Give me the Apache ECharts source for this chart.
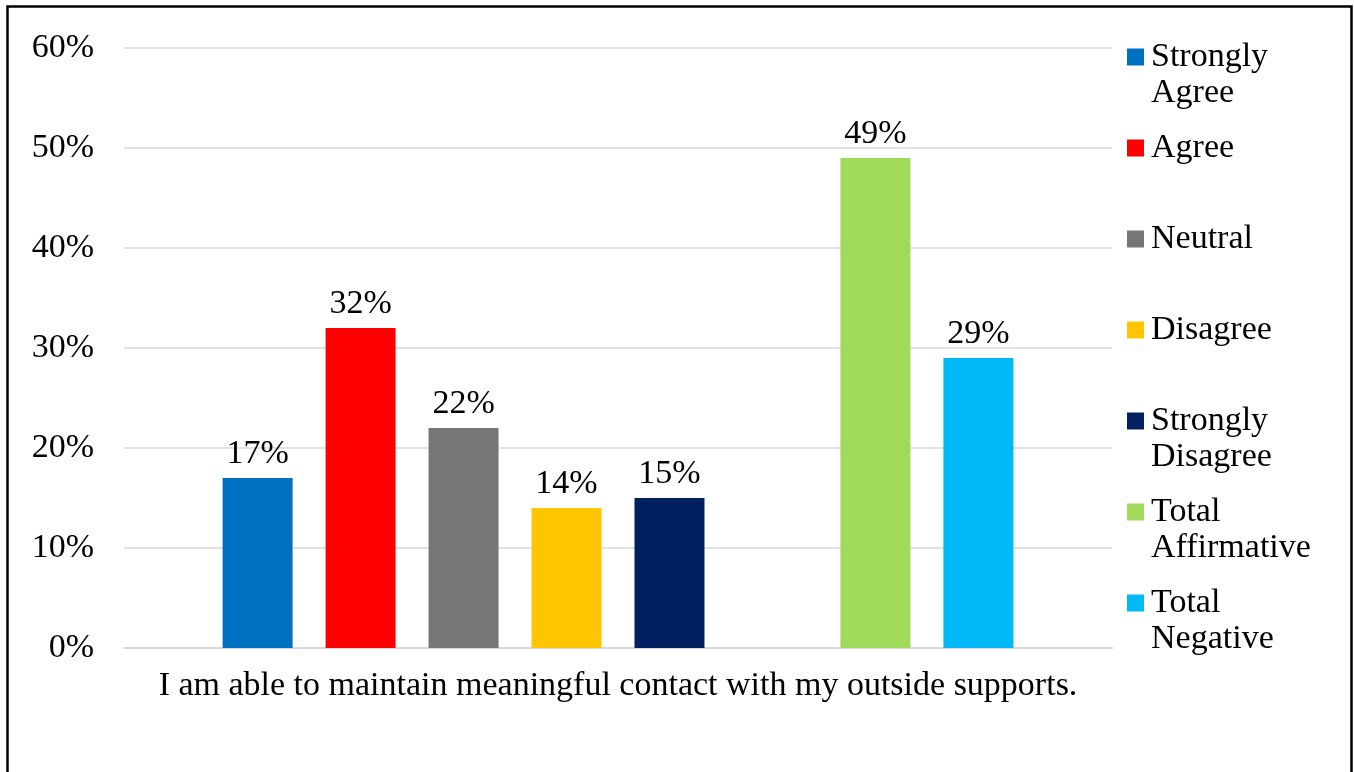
<!DOCTYPE html>
<html>
<head>
<meta charset="utf-8">
<script src="https://cdn.jsdelivr.net/npm/echarts@6/dist/echarts.min.js"></script>
<style>
  html, body {margin: 0; padding: 0; background: #fff;}
  #chart {width: 1354px; height: 772px;}
</style>
</head>
<body>
<div id="chart"></div>
<script>
// single question, several answer groups
const categories = ['I am able to maintain meaningful contact with my outside supports.']
const seriesNames = ['Strongly Agree', 'Agree', 'Neutral', 'Disagree', 'Strongly Disagree', '', 'Total Affirmative', 'Total Negative']
const legendLabels = ['Strongly\nAgree', 'Agree', 'Neutral', 'Disagree', 'Strongly\nDisagree', 'Total\nAffirmative', 'Total\nNegative']
const seriesValues = [17, 32, 22, 14, 15, null, 49, 29]
const seriesColors = ['#0070c0', '#ff0000', '#767676', '#ffc600', '#002060', '#ffffff', '#9fda5a', '#00b9f7']
const yTicks = [0, 10, 20, 30, 40, 50, 60]

const FONT = 'Liberation Serif'
const FONT_SIZE = 34
const chart = echarts.init(document.getElementById('chart'))

//legend: every item is three lines tall so the icon sits on the first text line
const legendNames = seriesNames.filter(n => n !== '')
const legendText = function (name) {
  const label = legendLabels[legendNames.indexOf(name)]
  return label.indexOf('\n') != -1 ? '\n' + label : '\n' + label + '\n'
}

const series = seriesNames.map((name, i) => ({
  name: name === '' ? 'gap' : name,
  type: 'bar',
  barWidth: 70,
  barGap: '47.1%',
  data: [seriesValues[i]],
  itemStyle: {color: seriesColors[i]},
  label: {
    show: seriesValues[i] != null,
    position: 'top',
    distance: 7,
    formatter: '{c}%',
    fontFamily: FONT,
    fontSize: FONT_SIZE,
    color: '#000'
  }
}))

chart.setOption({
  animation: false,
  graphic: [{
    type: 'rect',
    shape: {x: 7.5, y: 6.5, width: 1344, height: 820},
    style: {fill: null, stroke: '#000', lineWidth: 2.5},
    silent: true
  }],
  grid: {left: 124, top: 48, width: 988, height: 600},
  legend: {
    orient: 'vertical',
    left: 1122,
    top: -2,
    itemWidth: 17,
    itemHeight: 17,
    itemGap: -17,
    icon: 'rect',
    data: legendNames,
    formatter: legendText,
    textStyle: {fontFamily: FONT, fontSize: FONT_SIZE, color: '#000', lineHeight: 36, padding: [0, 0, 0, 2]}
  },
  xAxis: {
    type: 'category',
    data: categories,
    axisLine: {lineStyle: {color: '#d9d9d9', width: 2}},
    axisTick: {show: false},
    axisLabel: {fontFamily: FONT, fontSize: FONT_SIZE, color: '#000', margin: 21}
  },
  yAxis: {
    type: 'value',
    min: yTicks[0],
    max: yTicks[yTicks.length - 1],
    interval: 10,
    axisLine: {show: false},
    axisTick: {show: false},
    splitLine: {lineStyle: {color: '#d9d9d9', width: 1.5}},
    axisLabel: {fontFamily: FONT, fontSize: FONT_SIZE, color: '#000', margin: 30, formatter: '{value}%'}
  },
  series: series
})
</script>
</body>
</html>
